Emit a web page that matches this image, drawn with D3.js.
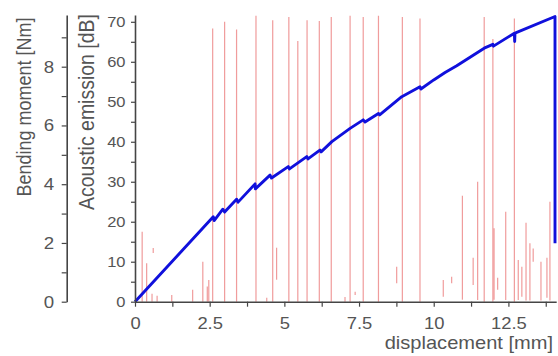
<!DOCTYPE html>
<html>
<head>
<meta charset="utf-8">
<script src="https://cdn.jsdelivr.net/npm/d3@7/dist/d3.min.js"></script>
<style>
  html, body { margin: 0; padding: 0; background: #fff; }
  svg { display: block; font-family: "Liberation Sans", Arial, sans-serif; }
</style>
</head>
<body>
<svg id="chart" width="558" height="356"></svg>
<script>
// ---- data ----
// Bending moment curve (blue): displacement [mm] vs moment [Nm]
const dispMm = [0, 2.62, 2.65, 2.94, 3.0, 3.40, 3.45, 4.02, 4.03, 4.52, 4.57, 5.13, 5.17, 5.75, 5.79, 6.19, 6.23, 6.59, 7.20, 7.64, 7.70, 8.15, 8.19, 8.93, 9.54, 9.57, 10.0, 10.38, 10.77, 11.69, 11.98, 12.0, 12.70, 12.71, 12.72, 14.06, 14.06];
const momentNm = [0, 2.89, 2.76, 3.15, 3.05, 3.49, 3.39, 4.01, 3.84, 4.31, 4.21, 4.60, 4.52, 4.94, 4.86, 5.16, 5.10, 5.45, 5.90, 6.19, 6.12, 6.41, 6.36, 6.98, 7.32, 7.24, 7.55, 7.80, 8.03, 8.63, 8.76, 8.70, 9.14, 8.86, 9.14, 9.71, 1.99];

// Acoustic emission hits (red): position [mm], low [dB], high [dB]
const aeMm   = [2.60, 3.00, 3.40, 4.05, 4.61, 5.15, 5.45, 5.76, 6.17, 6.57, 7.20, 7.64, 8.15, 8.95, 9.54, 11.69, 11.98, 12.70,
                0.24, 0.39, 0.61, 0.57, 0.74, 1.23, 1.93, 2.27, 2.42, 2.47, 4.41, 4.74, 7.03, 7.37, 8.76, 10.32, 10.60, 10.96, 11.32, 11.47, 12.02, 12.14, 12.41, 12.83, 12.95, 13.09, 13.22, 13.33, 13.59, 13.79, 13.89];
const aeLowDb  = [0, 0, 0, 0, 0, 0, 0, 0, 0, 0, 0, 0, 0, 0, 0, 0, 0, 0,
                0, 0, 12.2, 0, 0, 0, 0, 0, 0, 0, 0, 5.5, 0, 1.7, 4.6, 1.25, 4.6, 0.5, 4.2, 0.4, 0.5, 3, 0.4, 0.4, 1.25, 0.3, 0.3, 10, 0.3, 1, 0.3];
const aeHighDb = [68.3, 70.0, 68.1, 71.5, 70.4, 71.2, 65.2, 70.4, 70.2, 71.2, 71.5, 71.2, 71.5, 71.2, 70.8, 71.2, 65.7, 70.8,
                17.5, 9.6, 13.4, 2, 1.5, 1.7, 3, 10, 3.8, 5.4, 1, 13.5, 1.2, 2.5, 8.75, 5.4, 6.25, 26.5, 11, 30, 18.4, 6, 22.5, 10.4, 8.75, 19.75, 14.6, 13.3, 10, 11, 25];

const xTicks = [0, 1.25, 2.5, 3.75, 5, 6.25, 7.5, 8.75, 10, 11.25, 12.5, 13.75];
const xTickLabels = ["0", "2.5", "5", "7.5", "10", "12.5"];
const aeTicks = [0, 5, 10, 15, 20, 25, 30, 35, 40, 45, 50, 55, 60, 65, 70];
const aeTickLabels = ["0", "10", "20", "30", "40", "50", "60", "70"];
const bmTicks = [0, 1, 2, 3, 4, 5, 6, 7, 8, 9];
const bmTickLabels = ["0", "2", "4", "6", "8"];

// ---- drawing ----
const svg = d3.select("#chart");
const axisColor = "#454545";
const textColor = "#555555";

const x = d3.scaleLinear().domain([0, 14.1]).range([135, 556.2]);
const yAE = d3.scaleLinear().domain([0, 71.7]).range([301.7, 15]);
const yBM = d3.scaleLinear().domain([0, 9.76]).range([301.7, 15]);

// red AE hits
const hits = aeMm.map((m, i) => ({ m, lo: aeLowDb[i], hi: aeHighDb[i] }));
svg.append("g").selectAll("line").data(hits).join("line")
  .attr("x1", d => x(d.m)).attr("x2", d => x(d.m))
  .attr("y1", d => yAE(d.lo)).attr("y2", d => yAE(d.hi))
  .attr("stroke", "#e23a3a").attr("stroke-opacity", 0.5).attr("stroke-width", 1.2);

// blue moment curve
const pts = dispMm.map((m, i) => [m, momentNm[i]]);
svg.append("path").datum(pts)
  .attr("fill", "none").attr("stroke", "#1010dc").attr("stroke-width", 2.9)
  .attr("stroke-linejoin", "round")
  .attr("d", d3.line().x(d => x(d[0])).y(d => yBM(d[1])));

function styleAxis(g, size, sx) {
  g.selectAll("path.domain").attr("stroke", axisColor).attr("stroke-width", 1.6);
  g.selectAll(".tick line").attr("stroke", axisColor).attr("stroke-width", 1.2);
  g.selectAll(".tick text").attr("fill", textColor).attr("font-size", size)
    .attr("font-family", '"Liberation Sans", Arial, sans-serif');
}

// x axis
const xAxis = svg.append("g").attr("transform", `translate(0,${yAE(0)})`)
  .call(d3.axisBottom(x).tickValues(xTicks).tickSize(5).tickSizeOuter(0)
    .tickFormat(d => { const i = [0, 2.5, 5, 7.5, 10, 12.5].indexOf(d); return i >= 0 ? xTickLabels[i] : ""; }));
styleAxis(xAxis, 16);
xAxis.selectAll(".tick text").attr("y", 0).attr("dy", 0)
  .attr("transform", "translate(0,27) scale(1.15,1)");

// AE axis
const aeAxis = svg.append("g").attr("transform", `translate(${x(0)},0)`)
  .call(d3.axisLeft(yAE).tickValues(aeTicks).tickSize(4).tickSizeOuter(0)
    .tickFormat(d => d % 10 === 0 ? aeTickLabels[d / 10] : ""));
styleAxis(aeAxis, 15);
aeAxis.selectAll(".tick text").attr("x", 0)
  .attr("transform", "translate(-9.5,0) scale(1.1,1)");

// Bending moment axis
const bmAxis = svg.append("g").attr("transform", `translate(66.7,0)`)
  .call(d3.axisLeft(yBM).tickValues(bmTicks).tickSize(5).tickSizeOuter(0)
    .tickFormat(d => d % 2 === 0 ? bmTickLabels[d / 2] : ""));
styleAxis(bmAxis, 17);
bmAxis.selectAll(".tick text").attr("x", 0)
  .attr("transform", "translate(-12.5,0) scale(1.1,1)");

// titles
svg.append("text").text("displacement [mm]")
  .attr("transform", "translate(553,349) scale(1.115,1)").attr("text-anchor", "end")
  .attr("font-size", 18).attr("fill", textColor);
svg.append("text").text("Bending moment [Nm]")
  .attr("transform", "translate(31,107) scale(1.1,1) rotate(-90)").attr("text-anchor", "middle")
  .attr("font-size", 18).attr("fill", textColor);
svg.append("text").text("Acoustic emission [dB]")
  .attr("transform", "translate(94,112) scale(1.1,1) rotate(-90)").attr("text-anchor", "middle")
  .attr("font-size", 19.5).attr("fill", textColor);
</script>
</body>
</html>
